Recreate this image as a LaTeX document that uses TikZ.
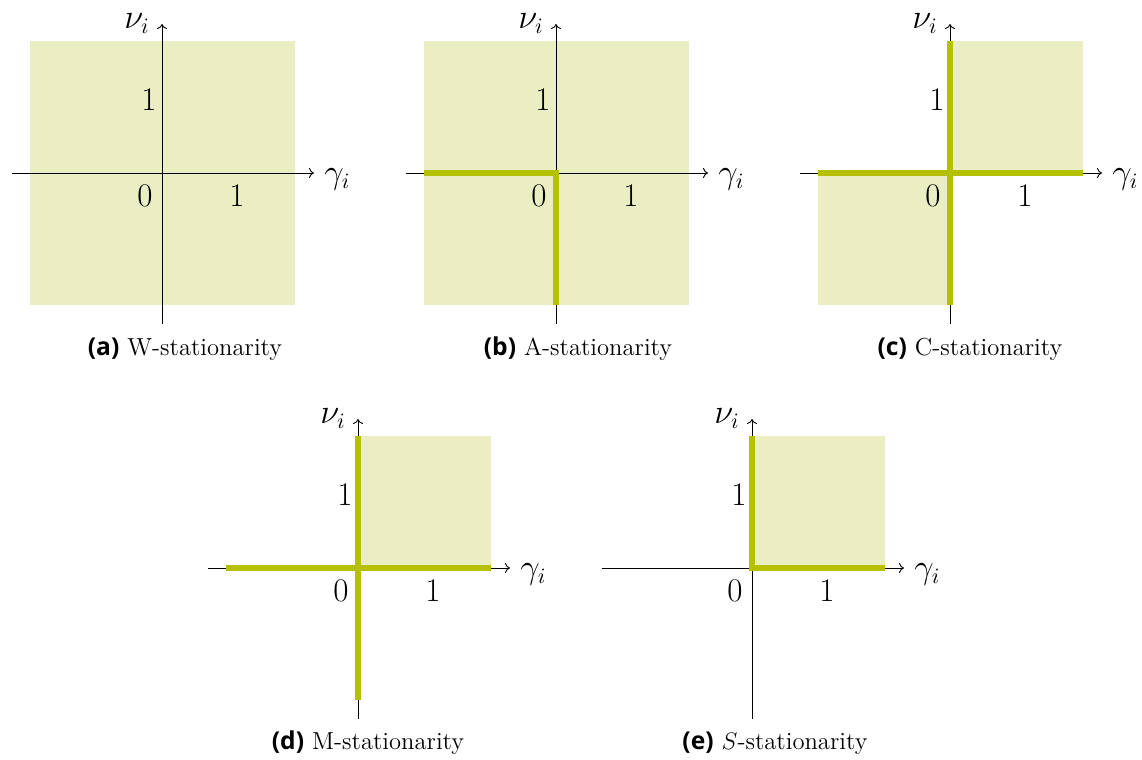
\documentclass[tikz,border=0pt]{standalone}
\usepackage{fontspec}
\newfontfamily\capsf{Open Sans}
\usetikzlibrary{arrows.meta}
\definecolor{regfill}{RGB}{234,238,194}
\definecolor{regline}{RGB}{181,192,0}
\tikzset{
  axis/.style={draw=black, line width=0.45pt, -{To[length=2.5pt,width=5pt]}},
  region/.style={fill=regfill, draw=none},
  boldline/.style={draw=regline, line width=2.6pt, line join=miter},
  num/.style={font=\fontsize{16.5}{18}\selectfont, inner sep=0pt},
  lab/.style={font=\fontsize{16}{18}\selectfont, inner sep=0pt},
  capt/.style={font=\fontsize{12.3}{14}\selectfont, inner sep=0pt, anchor=base}
}
\newcommand{\capl}[1]{{\capsf\bfseries (#1)}}
\begin{document}
\begin{tikzpicture}[x=0.5pt,y=-0.5pt]
\useasboundingbox (0,0) rectangle (1142,760);

% ---------- (a) W-stationarity
\begin{scope}[shift={(162,173)}]
  \fill[region] (-132,-132) rectangle (133,132);
  \coordinate (aL) at (-150,0); \coordinate (aR) at (152,0);
  \coordinate (aB) at (0,151);  \coordinate (aT) at (0,-149);
  \draw[axis] (aL) -- (aR);
  \draw[axis] (aB) -- (aT);
  \node[num] (ay1) at (-13,-73) {1};
  \node[num] (ax0) at (-17,23) {0};
  \node[num] (ax1) at (75,23) {1};
  \node[lab,anchor=base west] (agam) at (162,10) {$\gamma_i$};
  \node[lab,anchor=base east] (anu) at (-12,-145) {$\nu_i$};
\end{scope}
\node[capt] (capa) at (185,355) {\capl{a} W-stationarity};

% ---------- (b) A-stationarity
\begin{scope}[shift={(556,173)}]
  \fill[region] (-132,-132) rectangle (133,132);
  \coordinate (bL) at (-150,0); \coordinate (bR) at (152,0);
  \coordinate (bB) at (0,151);  \coordinate (bT) at (0,-149);
  \coordinate (bO) at (0,0);
  \coordinate (bl1) at (-132,0); \coordinate (bl2) at (0,132);
  \draw[axis] (bL) -- (bR);
  \draw[axis] (bB) -- (bT);
  \draw[boldline] (bl1) -- (bO) -- (bl2);
  \node[num] (by1) at (-13,-73) {1};
  \node[num] (bx0) at (-17,23) {0};
  \node[num] (bx1) at (75,23) {1};
  \node[lab,anchor=base west] (bgam) at (162,10) {$\gamma_i$};
  \node[lab,anchor=base east] (bnu) at (-12,-145) {$\nu_i$};
\end{scope}
\node[capt] (capb) at (578,355) {\capl{b} A-stationarity};

% ---------- (c) C-stationarity
\begin{scope}[shift={(950,173)}]
  \fill[region] (0,-132) rectangle (133,0);
  \fill[region] (-132,0) rectangle (0,132);
  \coordinate (cL) at (-150,0); \coordinate (cR) at (152,0);
  \coordinate (cB) at (0,151);  \coordinate (cT) at (0,-149);
  \coordinate (cl1) at (-132,0); \coordinate (cl2) at (133,0);
  \coordinate (cl3) at (0,-132); \coordinate (cl4) at (0,132);
  \draw[axis] (cL) -- (cR);
  \draw[axis] (cB) -- (cT);
  \draw[boldline] (cl1) -- (cl2);
  \draw[boldline] (cl3) -- (cl4);
  \node[num] (cy1) at (-13,-73) {1};
  \node[num] (cx0) at (-17,23) {0};
  \node[num] (cx1) at (75,23) {1};
  \node[lab,anchor=base west] (cgam) at (162,10) {$\gamma_i$};
  \node[lab,anchor=base east] (cnu) at (-12,-145) {$\nu_i$};
\end{scope}
\node[capt] (capc) at (970,355) {\capl{c} C-stationarity};

% ---------- (d) M-stationarity
\begin{scope}[shift={(358,568)}]
  \fill[region] (0,-132) rectangle (133,0);
  \coordinate (dL) at (-150,0); \coordinate (dR) at (152,0);
  \coordinate (dB) at (0,151);  \coordinate (dT) at (0,-149);
  \coordinate (dl1) at (-132,0); \coordinate (dl2) at (133,0);
  \coordinate (dl3) at (0,-132); \coordinate (dl4) at (0,132);
  \draw[axis] (dL) -- (dR);
  \draw[axis] (dB) -- (dT);
  \draw[boldline] (dl1) -- (dl2);
  \draw[boldline] (dl3) -- (dl4);
  \node[num] (dy1) at (-13,-73) {1};
  \node[num] (dx0) at (-17,23) {0};
  \node[num] (dx1) at (75,23) {1};
  \node[lab,anchor=base west] (dgam) at (162,10) {$\gamma_i$};
  \node[lab,anchor=base east] (dnu) at (-12,-145) {$\nu_i$};
\end{scope}
\node[capt] (capd) at (368,749) {\capl{d} M-stationarity};

% ---------- (e) S-stationarity
\begin{scope}[shift={(752,568)}]
  \fill[region] (0,-132) rectangle (133,0);
  \coordinate (eL) at (-150,0); \coordinate (eR) at (152,0);
  \coordinate (eB) at (0,151);  \coordinate (eT) at (0,-149);
  \coordinate (eO) at (0,0);
  \coordinate (el1) at (0,-132); \coordinate (el2) at (133,0);
  \draw[axis] (eL) -- (eR);
  \draw[axis] (eB) -- (eT);
  \draw[boldline] (el1) -- (eO) -- (el2);
  \node[num] (ey1) at (-13,-73) {1};
  \node[num] (ex0) at (-17,23) {0};
  \node[num] (ex1) at (75,23) {1};
  \node[lab,anchor=base west] (egam) at (162,10) {$\gamma_i$};
  \node[lab,anchor=base east] (enu) at (-12,-145) {$\nu_i$};
\end{scope}
\node[capt] (cape) at (775,749) {\capl{e} $S$-stationarity};
\end{tikzpicture}
\end{document}
